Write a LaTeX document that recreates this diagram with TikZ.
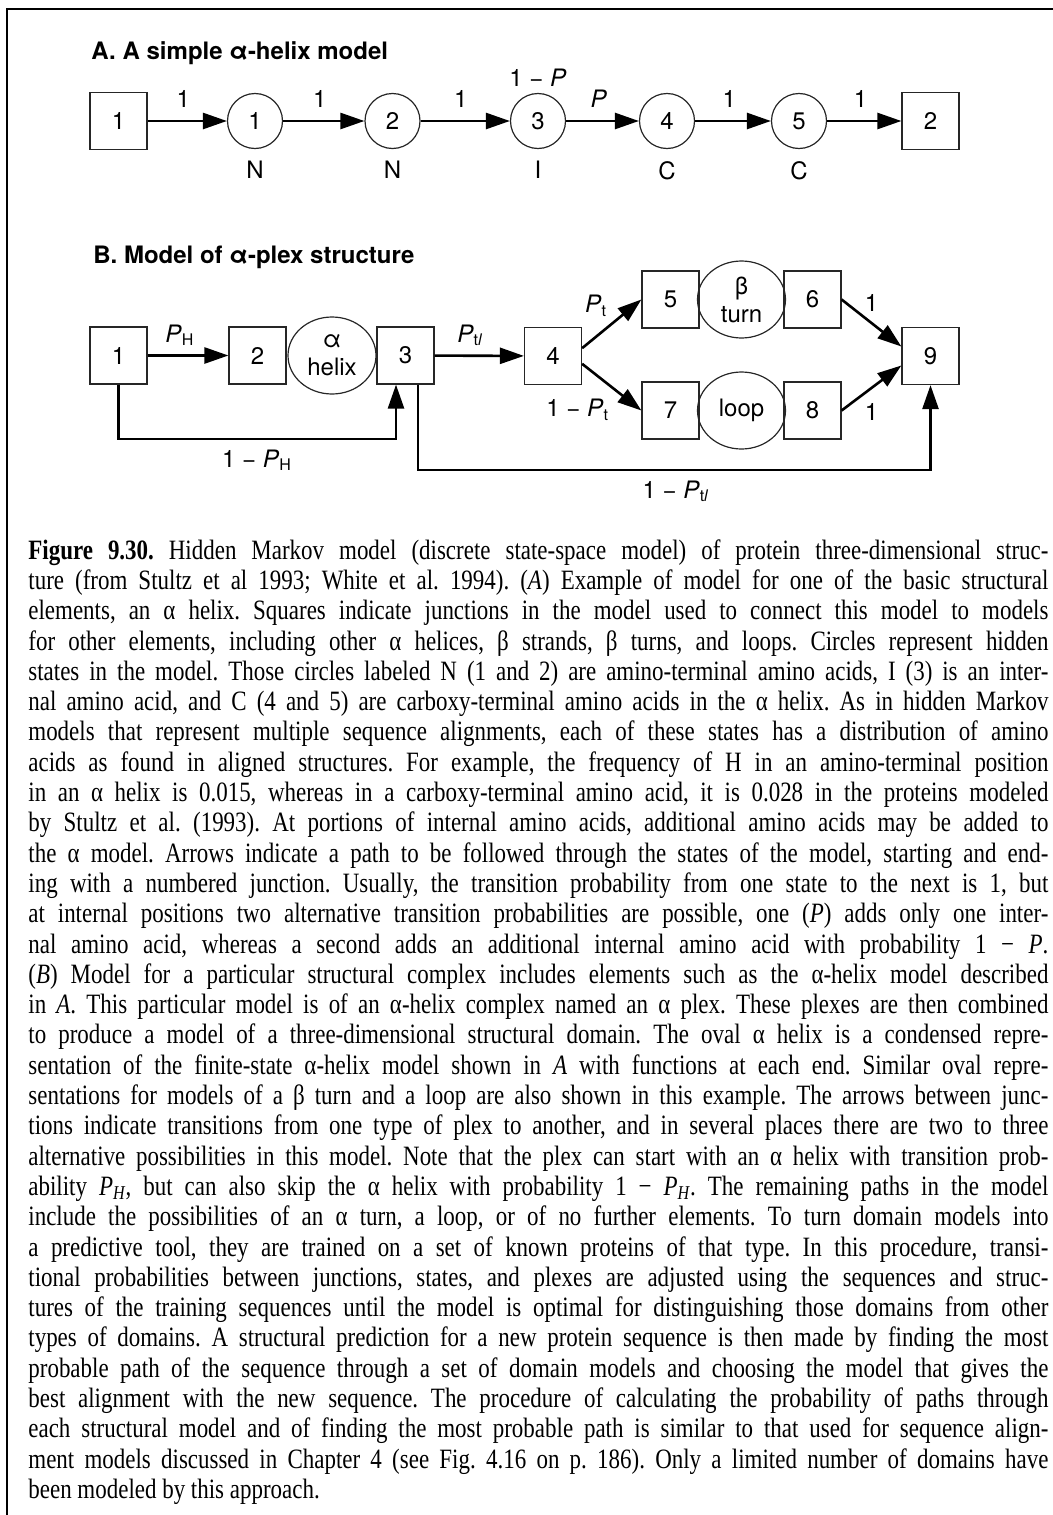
\documentclass[tikz,border=0pt]{standalone}
\usepackage{fontspec}
\setmainfont{Liberation Serif}[FakeStretch=0.82]
\newfontfamily\diagfont{TeX Gyre Heros}
\usetikzlibrary{arrows.meta, positioning, shapes.geometric}
\frenchspacing

\tikzset{
  junc/.style={draw=black!85, line width=0.6pt, minimum size=28.5pt, inner sep=0pt},
  hstate/.style={circle, draw=black!85, line width=0.6pt, minimum size=27.5pt, inner sep=0pt},
  plex/.style={ellipse, draw=black!85, line width=0.6pt, minimum width=44pt, minimum height=38.5pt,
    inner sep=0pt, align=center, font=\diagfont\fontsize{12pt}{14pt}\selectfont},
  arr/.style={line width=1.3pt, -{Triangle[length=12pt, width=8pt]}},
  elbl/.style={anchor=base, inner sep=0pt, yshift=6.75pt},
  heading/.style={anchor=base west, inner sep=0pt, font=\diagfont\bfseries\fontsize{12pt}{14pt}\selectfont},
}

\begin{document}
\begin{tikzpicture}[x=0.5pt, y=-0.5pt, font=\diagfont\fontsize{12pt}{14pt}\selectfont]
    \useasboundingbox (0,0) rectangle (1053,1515);

    % 1. Frame
    \draw[line width=0.9pt] (7,1515) -- (7,9) -- (1053,9);

    % 2. Simple alpha-helix model
    \node[heading] (titleA) at (91,59) {A. A simple α-helix model};
    \node[junc] (A1) at (118.5,121) {1};
    \node[hstate] (a1) at (255,121) {1};
    \node[hstate] (a2) at (392.5,121) {2};
    \node[hstate] (a3) at (538,121) {3};
    \node[hstate] (a4) at (667,121) {4};
    \node[hstate] (a5) at (799,121) {5};
    \node[junc] (A2) at (930.5,121) {2};

    \foreach \u/\v/\w in {A1/a1/1, a1/a2/1, a2/a3/1, a3/a4/\textit{P}, a4/a5/1, a5/A2/1} {
        \draw[arr] (\u) -- node[elbl, pos=0.45] {\w} (\v);
    }
    \node[above=3pt of a3, inner sep=0pt] (stayP) {1 − \textit{P}};

    \foreach \s/\t in {a1/N, a2/N, a3/I, a4/C, a5/C} {
        \node[below=6pt of \s, inner sep=0pt] (lbl\s) {\t};
    }

    % 3. Model of alpha-plex structure
    \node[heading] (titleB) at (93,263) {B. Model of α-plex structure};
    \node[junc] (B1) at (118.5,355.5) {1};
    \node[junc] (B2) at (257.5,355.5) {2};
    \node[plex] (helix) at (332,355.5) {α\\helix};
    \node[junc] (B3) at (405.5,355.5) {3};
    \node[junc] (B4) at (553,356) {4};
    \node[junc] (B5) at (670.5,299.5) {5};
    \node[plex] (turn) at (741.5,299.5) {β\\turn};
    \node[junc] (B6) at (812.5,299.5) {6};
    \node[junc] (B7) at (670.5,410.5) {7};
    \node[plex] (loop) at (741.5,410.5) {loop};
    \node[junc] (B8) at (812.5,410.5) {8};
    \node[junc] (B9) at (930.5,356) {9};

    % transitions between junctions
    \draw[arr] (B1) -- node[elbl, pos=0.4] {\textit{P}\textsubscript{H}} (B2);
    \draw[arr] (B3) -- node[elbl, pos=0.4] {\textit{P}\textsubscript{t\textit{l}}} (B4);
    \draw[arr] (B4.15) -- node[midway, anchor=south east, inner sep=0pt, xshift=-1.75pt, yshift=3pt]
        {\textit{P}\textsubscript{t}} (B5.west);
    \draw[arr] (B4.-15) -- node[midway, anchor=north east, inner sep=0pt, xshift=-0.75pt, yshift=-5.25pt]
        {1 − \textit{P}\textsubscript{t}} (B7.west);
    \draw[arr] (B6.east) -- node[midway, anchor=south, inner sep=0pt, yshift=5pt] {1} (B9.162);
    \draw[arr] (B8.east) -- node[midway, anchor=north, inner sep=0pt, yshift=-7pt] {1} (B9.198);

    % skip paths
    \coordinate (skipH) at (396,439);
    \draw[arr] (B1.south) |- (skipH) -- (skipH |- B3.south);
    \node[anchor=base] (lblskipH) at (257,467) {1 − \textit{P}\textsubscript{H}};

    \coordinate (skipT) at (418,470);
    \draw[arr] (skipT |- B3.south) -- (skipT) -| (B9.south);
    \node[anchor=base] (lblskipT) at (676,498) {1 − \textit{P}\textsubscript{t\textit{l}}};

    % 4. Caption
    \node[anchor=north west, inner sep=0pt, text width=510pt, align=justify,
        font=\rmfamily\fontsize{14pt}{15.15pt}\selectfont] (caption) at (28,539) {\tolerance=9999 \hyphenpenalty=10000
\textbf{Figure 9.30.} Hidden Markov model (discrete state-space model) of protein three-dimensional struc-\linebreak
ture (from Stultz et al 1993; White et al. 1994). (\textit{A}) Example of model for one of the basic structural\linebreak
elements, an α helix. Squares indicate junctions in the model used to connect this model to models\linebreak
for other elements, including other α helices, β strands, β turns, and loops. Circles represent hidden\linebreak
states in the model. Those circles labeled N (1 and 2) are amino-terminal amino acids, I (3) is an inter-\linebreak
nal amino acid, and C (4 and 5) are carboxy-terminal amino acids in the α helix. As in hidden Markov\linebreak
models that represent multiple sequence alignments, each of these states has a distribution of amino\linebreak
acids as found in aligned structures. For example, the frequency of H in an amino-terminal position\linebreak
in an α helix is 0.015, whereas in a carboxy-terminal amino acid, it is 0.028 in the proteins modeled\linebreak
by Stultz et al. (1993). At portions of internal amino acids, additional amino acids may be added to\linebreak
the α model. Arrows indicate a path to be followed through the states of the model, starting and end-\linebreak
ing with a numbered junction. Usually, the transition probability from one state to the next is 1, but\linebreak
at internal positions two alternative transition probabilities are possible, one (\textit{P}) adds only one inter-\linebreak
nal amino acid, whereas a second adds an additional internal amino acid with probability 1 − \textit{P}.\linebreak
(\textit{B}) Model for a particular structural complex includes elements such as the α-helix model described\linebreak
in \textit{A}. This particular model is of an α-helix complex named an α plex. These plexes are then combined\linebreak
to produce a model of a three-dimensional structural domain. The oval α helix is a condensed repre-\linebreak
sentation of the finite-state α-helix model shown in \textit{A} with functions at each end. Similar oval repre-\linebreak
sentations for models of a β turn and a loop are also shown in this example. The arrows between junc-\linebreak
tions indicate transitions from one type of plex to another, and in several places there are two to three\linebreak
alternative possibilities in this model. Note that the plex can start with an α helix with transition prob-\linebreak
ability \textit{P\textsubscript{H}}, but can also skip the α helix with probability 1 − \textit{P\textsubscript{H}}. The remaining paths in the model\linebreak
include the possibilities of an α turn, a loop, or of no further elements. To turn domain models into\linebreak
a predictive tool, they are trained on a set of known proteins of that type. In this procedure, transi-\linebreak
tional probabilities between junctions, states, and plexes are adjusted using the sequences and struc-\linebreak
tures of the training sequences until the model is optimal for distinguishing those domains from other\linebreak
types of domains. A structural prediction for a new protein sequence is then made by finding the most\linebreak
probable path of the sequence through a set of domain models and choosing the model that gives the\linebreak
best alignment with the new sequence. The procedure of calculating the probability of paths through\linebreak
each structural model and of finding the most probable path is similar to that used for sequence align-\linebreak
ment models discussed in Chapter 4 (see Fig. 4.16 on p. 186). Only a limited number of domains have\linebreak
been modeled by this approach.};

\end{tikzpicture}
\end{document}
